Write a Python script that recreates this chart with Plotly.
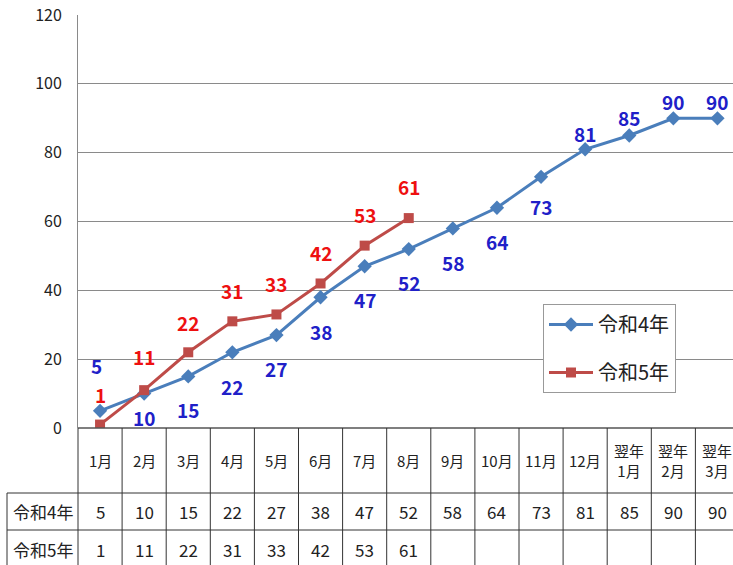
import plotly.graph_objects as go

categories = ["1月", "2月", "3月", "4月", "5月", "6月", "7月", "8月", "9月", "10月", "11月", "12月",
              "翌年<br>1月", "翌年<br>2月", "翌年<br>3月"]
series_names = ["令和4年", "令和5年"]
r4_values = [5, 10, 15, 22, 27, 38, 47, 52, 58, 64, 73, 81, 85, 90, 90]
r5_values = [1, 11, 22, 31, 33, 42, 53, 61]
y_ticks = [0, 20, 40, 60, 80, 100, 120]

# label offsets (px) – style only
r4_label_shift = [45, -24, -33, -34, -33, -34, -33, -33, -34, -34, -30, 16, 18, 17, 17]
r5_label_shift = [30, 34, 30, 31, 31, 31, 31, 32]

FONT = "Noto Sans CJK JP"
W, H = 733, 565
L, R, T, B = 78, 0, 15, 137
plot_h = H - T - B
plot_w = W - L - R
col_w = 44.1
xr = [-0.5, -0.5 + plot_w / col_w]

blue_line = "#4a7ebb"
red_line = "#be4b48"
blue_txt = "#2020c8"
red_txt = "#ee1010"

fig = go.Figure()
fig.add_trace(go.Scatter(
    x=list(range(len(r4_values))), y=r4_values, name=series_names[0],
    mode="lines+markers", line=dict(color=blue_line, width=3),
    marker=dict(symbol="diamond", size=11, color=blue_line),
    legendgroup="a"))
fig.add_trace(go.Scatter(
    x=list(range(len(r5_values))), y=r5_values, name=series_names[1],
    mode="lines+markers", line=dict(color=red_line, width=3),
    marker=dict(symbol="square", size=10, color=red_line),
    legendgroup="b"))

annotations = []
lab_size = 19
for i, v in enumerate(r4_values):
    annotations.append(dict(x=i, y=v, xref="x", yref="y", text=str(v), showarrow=False,
                            xanchor="center", yanchor="middle",
                            yshift=r4_label_shift[i], xshift=-4 if i == 0 else 0,
                            font=dict(family=FONT, size=lab_size, color=blue_txt, weight="bold")))
for i, v in enumerate(r5_values):
    annotations.append(dict(x=i, y=v, xref="x", yref="y", text=str(v), showarrow=False,
                            xanchor="center", yanchor="middle",
                            yshift=r5_label_shift[i],
                            font=dict(family=FONT, size=lab_size, color=red_txt, weight="bold")))


def py(px):
    return (H - B - px) / plot_h


def pxp(px):
    return (px - L) / plot_w


def xp(xv):
    return (xv - xr[0]) / (xr[1] - xr[0])


y_head_top, y_head_bot, y_r1_bot, y_r2_bot = 428, 493, 530, 570
x_left = 7

cell_font = dict(family=FONT, size=17, color="#222")
head_font = dict(family=FONT, size=15, color="#222")
# header texts
for i, c in enumerate(categories):
    annotations.append(dict(x=xp(i), y=py((y_head_top + y_head_bot) / 2), xref="paper", yref="paper",
                            text=c, showarrow=False, align="center",
                            xanchor="center", yanchor="middle", font=head_font))
# row texts
rows = [(series_names[0], r4_values, (y_head_bot + y_r1_bot) / 2),
        (series_names[1], r5_values, 549)]
for name, vals, yc in rows:
    annotations.append(dict(x=pxp((x_left + 78) / 2), y=py(yc), xref="paper", yref="paper",
                            text=name, showarrow=False, xanchor="center", yanchor="middle",
                            font=cell_font))
    for i, v in enumerate(vals):
        annotations.append(dict(x=xp(i), y=py(yc), xref="paper", yref="paper",
                                text=str(v), showarrow=False, xanchor="center", yanchor="middle",
                                font=cell_font))

shapes = []
tl = dict(color="#333", width=1)
# horizontal table lines
shapes.append(dict(type="line", xref="paper", yref="paper", x0=0, x1=1.01,
                   y0=py(y_head_top), y1=py(y_head_top), line=dict(color="#555", width=1.5)))
for yy in (y_head_bot, y_r1_bot):
    shapes.append(dict(type="line", xref="paper", yref="paper", x0=pxp(x_left), x1=1.01,
                       y0=py(yy), y1=py(yy), line=tl))
# vertical table lines
for k in range(len(categories) + 1):
    bx = xp(k - 0.5)
    if bx > 1.0:
        continue
    shapes.append(dict(type="line", xref="paper", yref="paper", x0=bx, x1=bx,
                       y0=py(y_head_top), y1=py(y_r2_bot), line=tl))
shapes.append(dict(type="line", xref="paper", yref="paper", x0=pxp(x_left), x1=pxp(x_left),
                   y0=py(y_head_bot), y1=py(y_r2_bot), line=tl))

fig.update_layout(
    width=W, height=H,
    margin=dict(l=L, r=R, t=T, b=B, pad=0),
    paper_bgcolor="white", plot_bgcolor="white",
    font=dict(family=FONT, color="#222"),
    showlegend=True,
    legend=dict(x=pxp(543), y=py(304), xanchor="left", yanchor="top",
                bgcolor="white", bordercolor="#999", borderwidth=1,
                font=dict(family=FONT, size=20, color="#222"),
                tracegroupgap=19, itemwidth=44),
    xaxis=dict(range=xr, showticklabels=False, showgrid=False, zeroline=False,
               showline=False, ticks=""),
    yaxis=dict(range=[0, 120.02], tickvals=y_ticks, showgrid=True, gridcolor="#8a8a8a",
               gridwidth=1, zeroline=False, showline=True, linecolor="#8a8a8a", linewidth=1,
               ticks="", ticklabelstandoff=12, ticklabeloverflow="allow",
               tickfont=dict(family=FONT, size=16, color="#222")),
    annotations=annotations,
    shapes=shapes,
)

fig.write_html(
    "out.html",
    config={"displayModeBar": False},
    post_script="document.body.style.margin='0px';document.body.style.overflow='hidden';",
)
